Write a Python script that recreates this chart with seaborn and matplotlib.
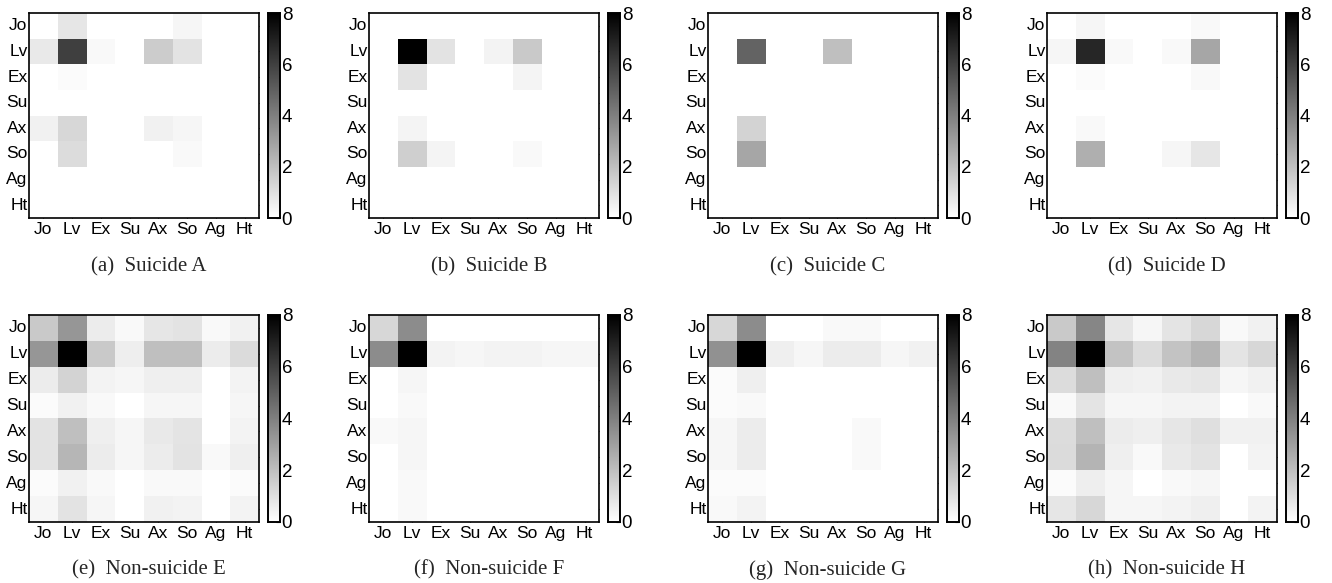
import numpy as np
import pandas as pd
import matplotlib
matplotlib.use("Agg")
import matplotlib.pyplot as plt
import seaborn as sns

emotions = ["Jo", "Lv", "Ex", "Su", "Ax", "So", "Ag", "Ht"]
captions = ["(a)  Suicide A", "(b)  Suicide B", "(c)  Suicide C", "(d)  Suicide D",
            "(e)  Non-suicide E", "(f)  Non-suicide F", "(g)  Non-suicide G", "(h)  Non-suicide H"]
cbar_ticks = [0, 2, 4, 6, 8]

suicide_a = [
    [0, 0.8, 0, 0, 0, 0.3, 0, 0],
    [0.7, 6.0, 0.2, 0, 1.6, 0.9, 0, 0],
    [0, 0.15, 0, 0, 0, 0, 0, 0],
    [0, 0, 0, 0, 0, 0, 0, 0],
    [0.45, 1.25, 0, 0, 0.45, 0.3, 0, 0],
    [0, 1.1, 0, 0, 0, 0.2, 0, 0],
    [0, 0, 0, 0, 0, 0, 0, 0],
    [0, 0, 0, 0, 0, 0, 0, 0],
]
suicide_b = [
    [0, 0, 0, 0, 0, 0, 0, 0],
    [0, 8.0, 0.9, 0, 0.4, 1.7, 0, 0],
    [0, 0.9, 0, 0, 0, 0.35, 0, 0],
    [0, 0, 0, 0, 0, 0, 0, 0],
    [0, 0.35, 0, 0, 0, 0, 0, 0],
    [0, 1.5, 0.35, 0, 0, 0.2, 0, 0],
    [0, 0, 0, 0, 0, 0, 0, 0],
    [0, 0, 0, 0, 0, 0, 0, 0],
]
suicide_c = [
    [0, 0, 0, 0, 0, 0, 0, 0],
    [0, 4.9, 0, 0, 2.0, 0, 0, 0],
    [0, 0, 0, 0, 0, 0, 0, 0],
    [0, 0, 0, 0, 0, 0, 0, 0],
    [0, 1.4, 0, 0, 0, 0, 0, 0],
    [0, 2.8, 0, 0, 0, 0, 0, 0],
    [0, 0, 0, 0, 0, 0, 0, 0],
    [0, 0, 0, 0, 0, 0, 0, 0],
]
suicide_d = [
    [0, 0.3, 0, 0, 0, 0.2, 0, 0],
    [0.3, 6.8, 0.2, 0, 0.2, 2.8, 0, 0],
    [0, 0.15, 0, 0, 0, 0.2, 0, 0],
    [0, 0, 0, 0, 0, 0, 0, 0],
    [0, 0.2, 0, 0, 0, 0, 0, 0],
    [0, 2.5, 0, 0, 0.3, 0.8, 0, 0],
    [0, 0, 0, 0, 0, 0, 0, 0],
    [0, 0, 0, 0, 0, 0, 0, 0],
]
nonsuicide_e = [
    [1.7, 3.3, 0.6, 0.2, 0.8, 0.9, 0.2, 0.45],
    [3.3, 8.0, 1.7, 0.55, 2.0, 2.0, 0.6, 1.15],
    [0.6, 1.4, 0.4, 0.3, 0.5, 0.5, 0, 0.4],
    [0.15, 0.45, 0.2, 0, 0.3, 0.3, 0, 0.3],
    [0.9, 2.0, 0.5, 0.3, 0.7, 0.85, 0, 0.4],
    [0.9, 2.3, 0.6, 0.3, 0.6, 0.9, 0.2, 0.5],
    [0.15, 0.45, 0.2, 0, 0.2, 0.2, 0, 0.15],
    [0.3, 0.9, 0.3, 0, 0.45, 0.4, 0, 0.4],
]
nonsuicide_f = [
    [1.25, 3.6, 0, 0, 0, 0, 0, 0],
    [3.6, 8.0, 0.4, 0.3, 0.4, 0.4, 0.3, 0.3],
    [0, 0.3, 0, 0, 0, 0, 0, 0],
    [0, 0.2, 0, 0, 0, 0, 0, 0],
    [0.2, 0.3, 0, 0, 0, 0, 0, 0],
    [0, 0.3, 0, 0, 0, 0, 0, 0],
    [0, 0.2, 0, 0, 0, 0, 0, 0],
    [0, 0.2, 0, 0, 0, 0, 0, 0],
]
nonsuicide_g = [
    [1.25, 3.6, 0, 0, 0.2, 0.2, 0, 0],
    [3.45, 8.0, 0.5, 0.3, 0.6, 0.6, 0.3, 0.45],
    [0.15, 0.5, 0, 0, 0, 0, 0, 0],
    [0.15, 0.2, 0, 0, 0, 0, 0, 0],
    [0.3, 0.6, 0, 0, 0, 0.2, 0, 0],
    [0.3, 0.6, 0, 0, 0, 0.2, 0, 0],
    [0.15, 0.15, 0, 0, 0, 0, 0, 0],
    [0.2, 0.4, 0, 0, 0, 0, 0, 0],
]
nonsuicide_h = [
    [1.7, 3.8, 0.8, 0.3, 0.85, 1.25, 0.2, 0.45],
    [3.9, 8.0, 1.9, 1.1, 1.9, 2.35, 0.85, 1.25],
    [1.1, 2.0, 0.5, 0.45, 0.7, 0.8, 0.3, 0.45],
    [0.2, 0.85, 0.3, 0.3, 0.4, 0.4, 0, 0.2],
    [1.1, 2.0, 0.6, 0.5, 0.8, 1.0, 0.45, 0.45],
    [1.15, 2.35, 0.5, 0.2, 0.7, 0.9, 0, 0.4],
    [0.15, 0.55, 0.3, 0, 0.2, 0.3, 0, 0],
    [0.8, 1.25, 0.3, 0.3, 0.4, 0.5, 0, 0.4],
]

matrices = [suicide_a, suicide_b, suicide_c, suicide_d,
            nonsuicide_e, nonsuicide_f, nonsuicide_g, nonsuicide_h]

sns.set_style("white")
plt.rcParams["font.family"] = ["Liberation Sans", "DejaVu Sans"]

W, H = 1332, 583
fig = plt.figure(figsize=(W / 100, H / 100), dpi=100)

lefts = [29, 369, 708, 1047]
rows = [(13, 218, 267), (315, 522, 570)]  # top, bottom, caption y (pixels)
hm_w = 230
cb_off = 239
cb_w = 12

for i, (mat, cap) in enumerate(zip(matrices, captions)):
    r, c = divmod(i, 4)
    top, bot, capy = rows[r]
    x0 = lefts[c]
    ax = fig.add_axes([x0 / W, 1 - bot / H, hm_w / W, (bot - top) / H])
    cax = fig.add_axes([(x0 + cb_off) / W, 1 - bot / H, cb_w / W, (bot - top) / H])
    df = pd.DataFrame(mat, index=emotions, columns=emotions)
    sns.heatmap(df, ax=ax, cbar_ax=cax, cmap="gray_r", vmin=0, vmax=8,
                cbar_kws={"ticks": cbar_ticks}, linewidths=0)
    for s in ax.spines.values():
        s.set_visible(True)
        s.set_color("black")
        s.set_linewidth(1.2)
    ax.tick_params(axis="both", which="both", direction="in", length=2.2, width=0.8,
                   top=True, right=True, left=True, bottom=True, labelsize=12.5,
                   colors="black")
    ax.tick_params(axis="y", pad=1.0)
    ax.tick_params(axis="x", pad=3.0)
    ax.set_yticklabels(emotions, rotation=0)
    ax.set_xticklabels(emotions, rotation=0)
    ax.set_xlabel("")
    ax.set_ylabel("")
    cax.tick_params(direction="in", length=3, width=0.8, labelsize=13.5, pad=1.2,
                    colors="black")
    for s in cax.spines.values():
        s.set_visible(True)
        s.set_color("black")
        s.set_linewidth(1.2)
    cb = ax.collections[0].colorbar
    cb.outline.set_visible(True)
    cb.outline.set_linewidth(1.2)
    cb.outline.set_edgecolor("black")
    fig.text((x0 + hm_w / 2 + 5) / W, 1 - capy / H, cap, ha="center", va="center",
             fontsize=15, family=["Liberation Serif", "DejaVu Serif"])

fig.savefig("out.png", dpi=100)
